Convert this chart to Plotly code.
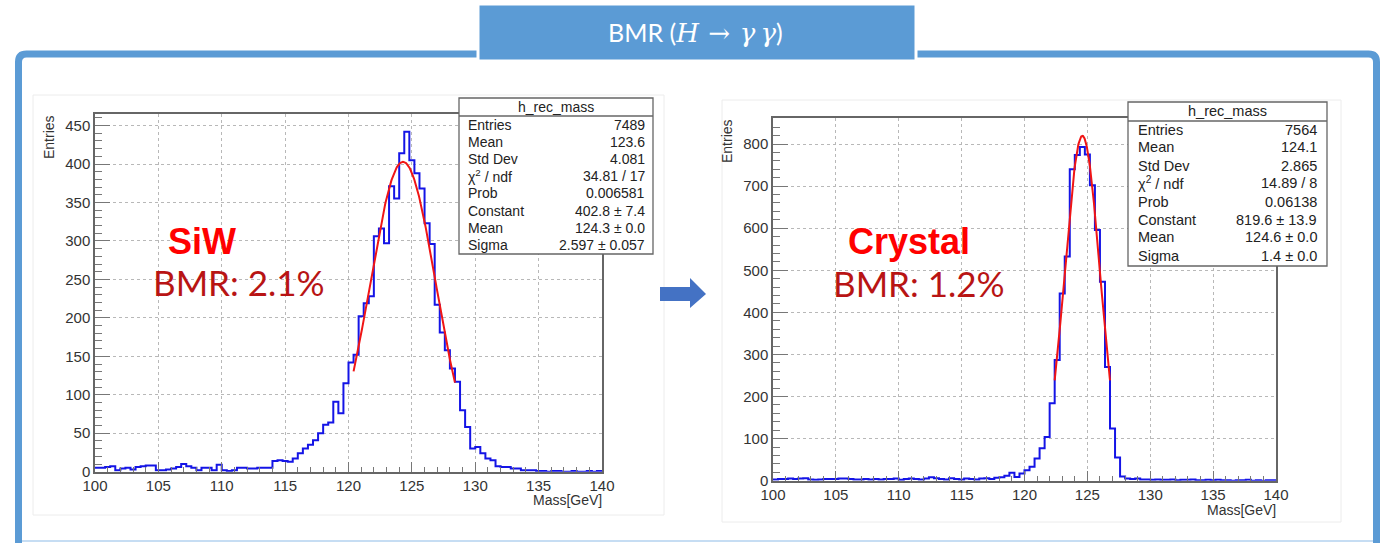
import numpy as np
import plotly.graph_objects as go

W, H = 1390, 543

# ---------------- data ----------------
bin_low = 100.0
bin_width = 0.4

siw_counts = [5, 5, 6, 7, 2, 4, 5, 3, 6, 7,
              8, 8, 2, 2, 3, 4, 6, 10, 7, 5,
              2, 5, 5, 2, 9, 2, 1, 2, 5, 5,
              4, 4, 5, 5, 5, 14, 15, 14, 13, 17,
              24, 30, 35, 41, 50, 61, 64, 91, 76, 115,
              142, 152, 202, 219, 228, 306, 316, 297, 371, 355,
              414, 442, 405, 388, 368, 323, 296, 217, 181, 158,
              134, 117, 80, 58, 30, 32, 24, 17, 15, 7,
              6, 6, 4, 4, 2, 2, 2, 1, 1, 0,
              1, 1, 0, 0, 1, 0, 0, 1, 0, 1]

crystal_counts = [3, 4, 4, 5, 4, 5, 6, 3, 2, 3,
                  4, 4, 4, 5, 5, 4, 3, 3, 4, 3,
                  4, 3, 4, 4, 5, 2, 4, 5, 4, 3,
                  5, 8, 6, 4, 3, 6, 4, 3, 5, 4,
                  3, 5, 6, 4, 7, 8, 12, 19, 9, 17,
                  25, 33, 53, 77, 104, 184, 287, 445, 533, 740,
                  774, 793, 775, 702, 596, 473, 270, 124, 55, 10,
                  5, 4, 5, 3, 3, 2, 3, 2, 2, 3,
                  1, 2, 2, 3, 1, 1, 2, 1, 2, 1,
                  1, 0, 1, 1, 2, 0, 1, 0, 1, 1]

# Gaussian fit parameters as printed in the stats boxes, with the fit ranges
siw_fit_constant, siw_fit_mean, siw_fit_sigma = 402.8, 124.3, 2.597
siw_fit_range = [120.4, 128.4]
crystal_fit_constant, crystal_fit_mean, crystal_fit_sigma = 819.6, 124.6, 1.4
crystal_fit_range = [122.4, 126.8]

x_ticks = [100, 105, 110, 115, 120, 125, 130, 135, 140]
x_tick_labels = ["100", "105", "110", "115", "120", "125", "130", "135", "140"]
siw_y_ticks = [0, 50, 100, 150, 200, 250, 300, 350, 400, 450]
crystal_y_ticks = [0, 100, 200, 300, 400, 500, 600, 700, 800]

stats_title = "h_rec_mass"
stats_labels = ["Entries", "Mean", "Std Dev", "χ<sup>2</sup> / ndf", "Prob",
                "Constant", "Mean", "Sigma"]
siw_stats_values = ["7489", "123.6", "4.081", "34.81 / 17", "0.006581",
                    "402.8 ± 7.4", "124.3 ± 0.0", "2.597 ± 0.057"]
crystal_stats_values = ["7564", "124.1", "2.865", "14.89 / 8", "0.06138",
                        "819.6 ± 13.9", "124.6 ± 0.0", "1.4 ± 0.0"]

MATH = "font-family:DejaVu Serif;font-size:26px"
title_text = (f"BMR (<i><span style='{MATH}'>H</span></i>\u2009 "
              f"<span style='{MATH}'>→</span> \u2009"
              f"<i><span style='{MATH}'>γ\u2009γ</span></i>)")
siw_name, siw_bmr = "SiW", "BMR: 2.1%"
crystal_name, crystal_bmr = "Crystal", "BMR: 1.2%"
x_title = "Mass[GeV]"
y_title = "Entries"

# ---------------- helpers ----------------
def X(px):
    return px / W


def Y(py):
    return 1 - py / H


BLUE_FRAME = "#5B9BD5"
HIST_BLUE = "#1414e6"
FIT_RED = "#f01515"
AX_FONT = "Liberation Sans, Arial, sans-serif"
LABEL_COLOR = "#333333"


def hist_xy(counts):
    edges = bin_low + bin_width * np.arange(len(counts) + 1)
    return edges, list(counts) + [counts[-1]]


def gauss(c, m, s, rng):
    xs = np.linspace(rng[0], rng[1], 200)
    return xs, c * np.exp(-0.5 * ((xs - m) / s) ** 2)


fig = go.Figure()

hx, hy = hist_xy(siw_counts)
fig.add_trace(go.Scatter(x=hx, y=hy, mode="lines", line=dict(color=HIST_BLUE, width=2, shape="hv"),
                         xaxis="x", yaxis="y", hoverinfo="skip", showlegend=False))
fx, fy = gauss(siw_fit_constant, siw_fit_mean, siw_fit_sigma, siw_fit_range)
fig.add_trace(go.Scatter(x=fx, y=fy, mode="lines", line=dict(color=FIT_RED, width=2),
                         xaxis="x", yaxis="y", hoverinfo="skip", showlegend=False))

hx, hy = hist_xy(crystal_counts)
fig.add_trace(go.Scatter(x=hx, y=hy, mode="lines", line=dict(color=HIST_BLUE, width=2, shape="hv"),
                         xaxis="x2", yaxis="y2", hoverinfo="skip", showlegend=False))
fx, fy = gauss(crystal_fit_constant, crystal_fit_mean, crystal_fit_sigma, crystal_fit_range)
fig.add_trace(go.Scatter(x=fx, y=fy, mode="lines", line=dict(color=FIT_RED, width=2),
                         xaxis="x2", yaxis="y2", hoverinfo="skip", showlegend=False))


def xaxis_cfg(dom, anchor):
    return dict(domain=dom, anchor=anchor, range=[100, 140], automargin=False,
                tickmode="array", tickvals=x_ticks, ticktext=x_tick_labels,
                ticks="inside", ticklen=10, tickcolor="#777", tickwidth=1,
                showline=True, linecolor="#666", linewidth=1.5, mirror=True,
                showgrid=True, gridcolor="#b8b8b8", griddash="dot", gridwidth=1,
                zeroline=False, fixedrange=True,
                tickfont=dict(family=AX_FONT, size=15, color=LABEL_COLOR),
                minor=dict(tickmode="linear", tick0=100, dtick=1, ticks="inside",
                           ticklen=5, tickcolor="#777", showgrid=False))


def yaxis_cfg(dom, anchor, rng, tv, minor_dt):
    return dict(domain=dom, anchor=anchor, range=rng, automargin=False,
                tickmode="array", tickvals=tv,
                ticks="inside", ticklen=15, tickcolor="#777", tickwidth=1,
                showline=True, linecolor="#666", linewidth=1.5, mirror=True,
                showgrid=True, gridcolor="#b8b8b8", griddash="dot", gridwidth=1,
                zeroline=False, fixedrange=True,
                tickfont=dict(family=AX_FONT, size=15, color=LABEL_COLOR),
                minor=dict(tickmode="linear", tick0=0, dtick=minor_dt, ticks="inside",
                           ticklen=7, tickcolor="#777", showgrid=False))


shapes = []
annotations = []

# outer rounded frame
x0, y0, x1, y1, r = 18.5, 54, 1376.5, 549, 8
path = (f"M {X(x0 + r)},{Y(y0)} L {X(x1 - r)},{Y(y0)} Q {X(x1)},{Y(y0)} {X(x1)},{Y(y0 + r)} "
        f"L {X(x1)},{Y(y1)} L {X(x0)},{Y(y1)} L {X(x0)},{Y(y0 + r)} Q {X(x0)},{Y(y0)} {X(x0 + r)},{Y(y0)} Z")
shapes.append(dict(type="path", path=path, xref="paper", yref="paper",
                   line=dict(color=BLUE_FRAME, width=7), layer="below"))
shapes.append(dict(type="line", x0=X(22), x1=X(1373), y0=Y(541), y1=Y(541), xref="paper", yref="paper",
                   line=dict(color="#c6ddf3", width=2), layer="below"))

# faint canvas frames
for (cx0, cy0, cx1, cy1) in [(33, 95, 664, 515), (722, 100, 1341, 522)]:
    shapes.append(dict(type="rect", x0=X(cx0), x1=X(cx1), y0=Y(cy0), y1=Y(cy1), xref="paper", yref="paper",
                       line=dict(color="#ececec", width=1), fillcolor="rgba(0,0,0,0)", layer="below"))

# title box
shapes.append(dict(type="rect", x0=X(478), x1=X(916), y0=Y(4), y1=Y(61), xref="paper", yref="paper",
                   line=dict(color="white", width=3), fillcolor=BLUE_FRAME, layer="above"))
annotations.append(dict(text=title_text, x=X(696), y=Y(33), xref="paper", yref="paper", showarrow=False,
                        xanchor="center", yanchor="middle",
                        font=dict(family="Lato, Open Sans, sans-serif", size=25, color="white")))

# arrow
apts = [(660, 287), (690, 287), (690, 278), (706, 294), (690, 308), (690, 301), (660, 301)]
apath = "M " + " L ".join(f"{X(a)},{Y(b)}" for a, b in apts) + " Z"
shapes.append(dict(type="path", path=apath, xref="paper", yref="paper",
                   line=dict(color="#4472C4", width=0), fillcolor="#4472C4", layer="above"))


def stats_box(bx0, by0, bx1, by1, head_line, head_y, row_y0, row_dy, lx, vx, values, fsize):
    shapes.append(dict(type="rect", x0=X(bx0), x1=X(bx1), y0=Y(by0), y1=Y(by1), xref="paper", yref="paper",
                       line=dict(color="#666", width=1.3), fillcolor="white", layer="above"))
    shapes.append(dict(type="line", x0=X(bx0), x1=X(bx1), y0=Y(head_line), y1=Y(head_line),
                       xref="paper", yref="paper", line=dict(color="#666", width=1.3), layer="above"))
    annotations.append(dict(text=stats_title, x=X((bx0 + bx1) / 2), y=Y(head_y), xref="paper", yref="paper",
                            showarrow=False, xanchor="center", yanchor="middle",
                            font=dict(family=AX_FONT, size=fsize, color="#222")))
    for i, (lab, val) in enumerate(zip(stats_labels, values)):
        yy = Y(row_y0 + i * row_dy)
        annotations.append(dict(text=lab, x=X(lx), y=yy, xref="paper", yref="paper", showarrow=False,
                                xanchor="left", yanchor="middle",
                                font=dict(family=AX_FONT, size=fsize, color="#222")))
        annotations.append(dict(text=val, x=X(vx), y=yy, xref="paper", yref="paper", showarrow=False,
                                xanchor="right", yanchor="middle",
                                font=dict(family=AX_FONT, size=fsize, color="#222")))


stats_box(459, 98, 653, 254, 116, 107, 124.5, 17.25, 466, 647, siw_stats_values, 14)
stats_box(1128, 102, 1327, 266, 121, 111, 129.5, 18.0, 1136, 1319, crystal_stats_values, 14.5)

# axis titles
for (tx, ty) in [(604, 500), (1278, 510)]:
    annotations.append(dict(text=x_title, x=X(tx), y=Y(ty), xref="paper", yref="paper", showarrow=False,
                            xanchor="right", yanchor="middle",
                            font=dict(family=AX_FONT, size=14, color=LABEL_COLOR)))
for (tx, ty) in [(49, 113), (727, 117)]:
    annotations.append(dict(text=y_title, x=X(tx), y=Y(ty), xref="paper", yref="paper", showarrow=False,
                            xanchor="center", yanchor="top", textangle=-90,
                            font=dict(family=AX_FONT, size=14, color=LABEL_COLOR)))

# red labels
for (txt, tx, ty) in [(siw_name, 202, 241), (crystal_name, 909, 241)]:
    annotations.append(dict(text=f"<b>{txt}</b>", x=X(tx), y=Y(ty), xref="paper", yref="paper", showarrow=False,
                            xanchor="center", yanchor="middle",
                            font=dict(family="Liberation Sans, Arial, sans-serif", size=36, color="#ff0000")))
for (txt, tx, ty) in [(siw_bmr, 239, 282), (crystal_bmr, 919, 283)]:
    annotations.append(dict(text=txt, x=X(tx), y=Y(ty), xref="paper", yref="paper", showarrow=False,
                            xanchor="center", yanchor="middle",
                            font=dict(family="Lato, Open Sans, sans-serif", size=35, color="#b81414")))

fig.update_layout(
    width=W, height=H, autosize=False,
    margin=dict(l=0, r=0, t=0, b=0, pad=0, autoexpand=False),
    paper_bgcolor="white", plot_bgcolor="white",
    xaxis=xaxis_cfg([X(95), X(602)], "y"),
    yaxis=yaxis_cfg([Y(471.7), Y(114)], "x", [0, 465], siw_y_ticks, 10),
    xaxis2=xaxis_cfg([X(773), X(1276)], "y2"),
    yaxis2=yaxis_cfg([Y(480.7), Y(118)], "x2", [0, 862], crystal_y_ticks, 20),
    shapes=shapes, annotations=annotations, showlegend=False,
)

fig.write_html("out.html")
